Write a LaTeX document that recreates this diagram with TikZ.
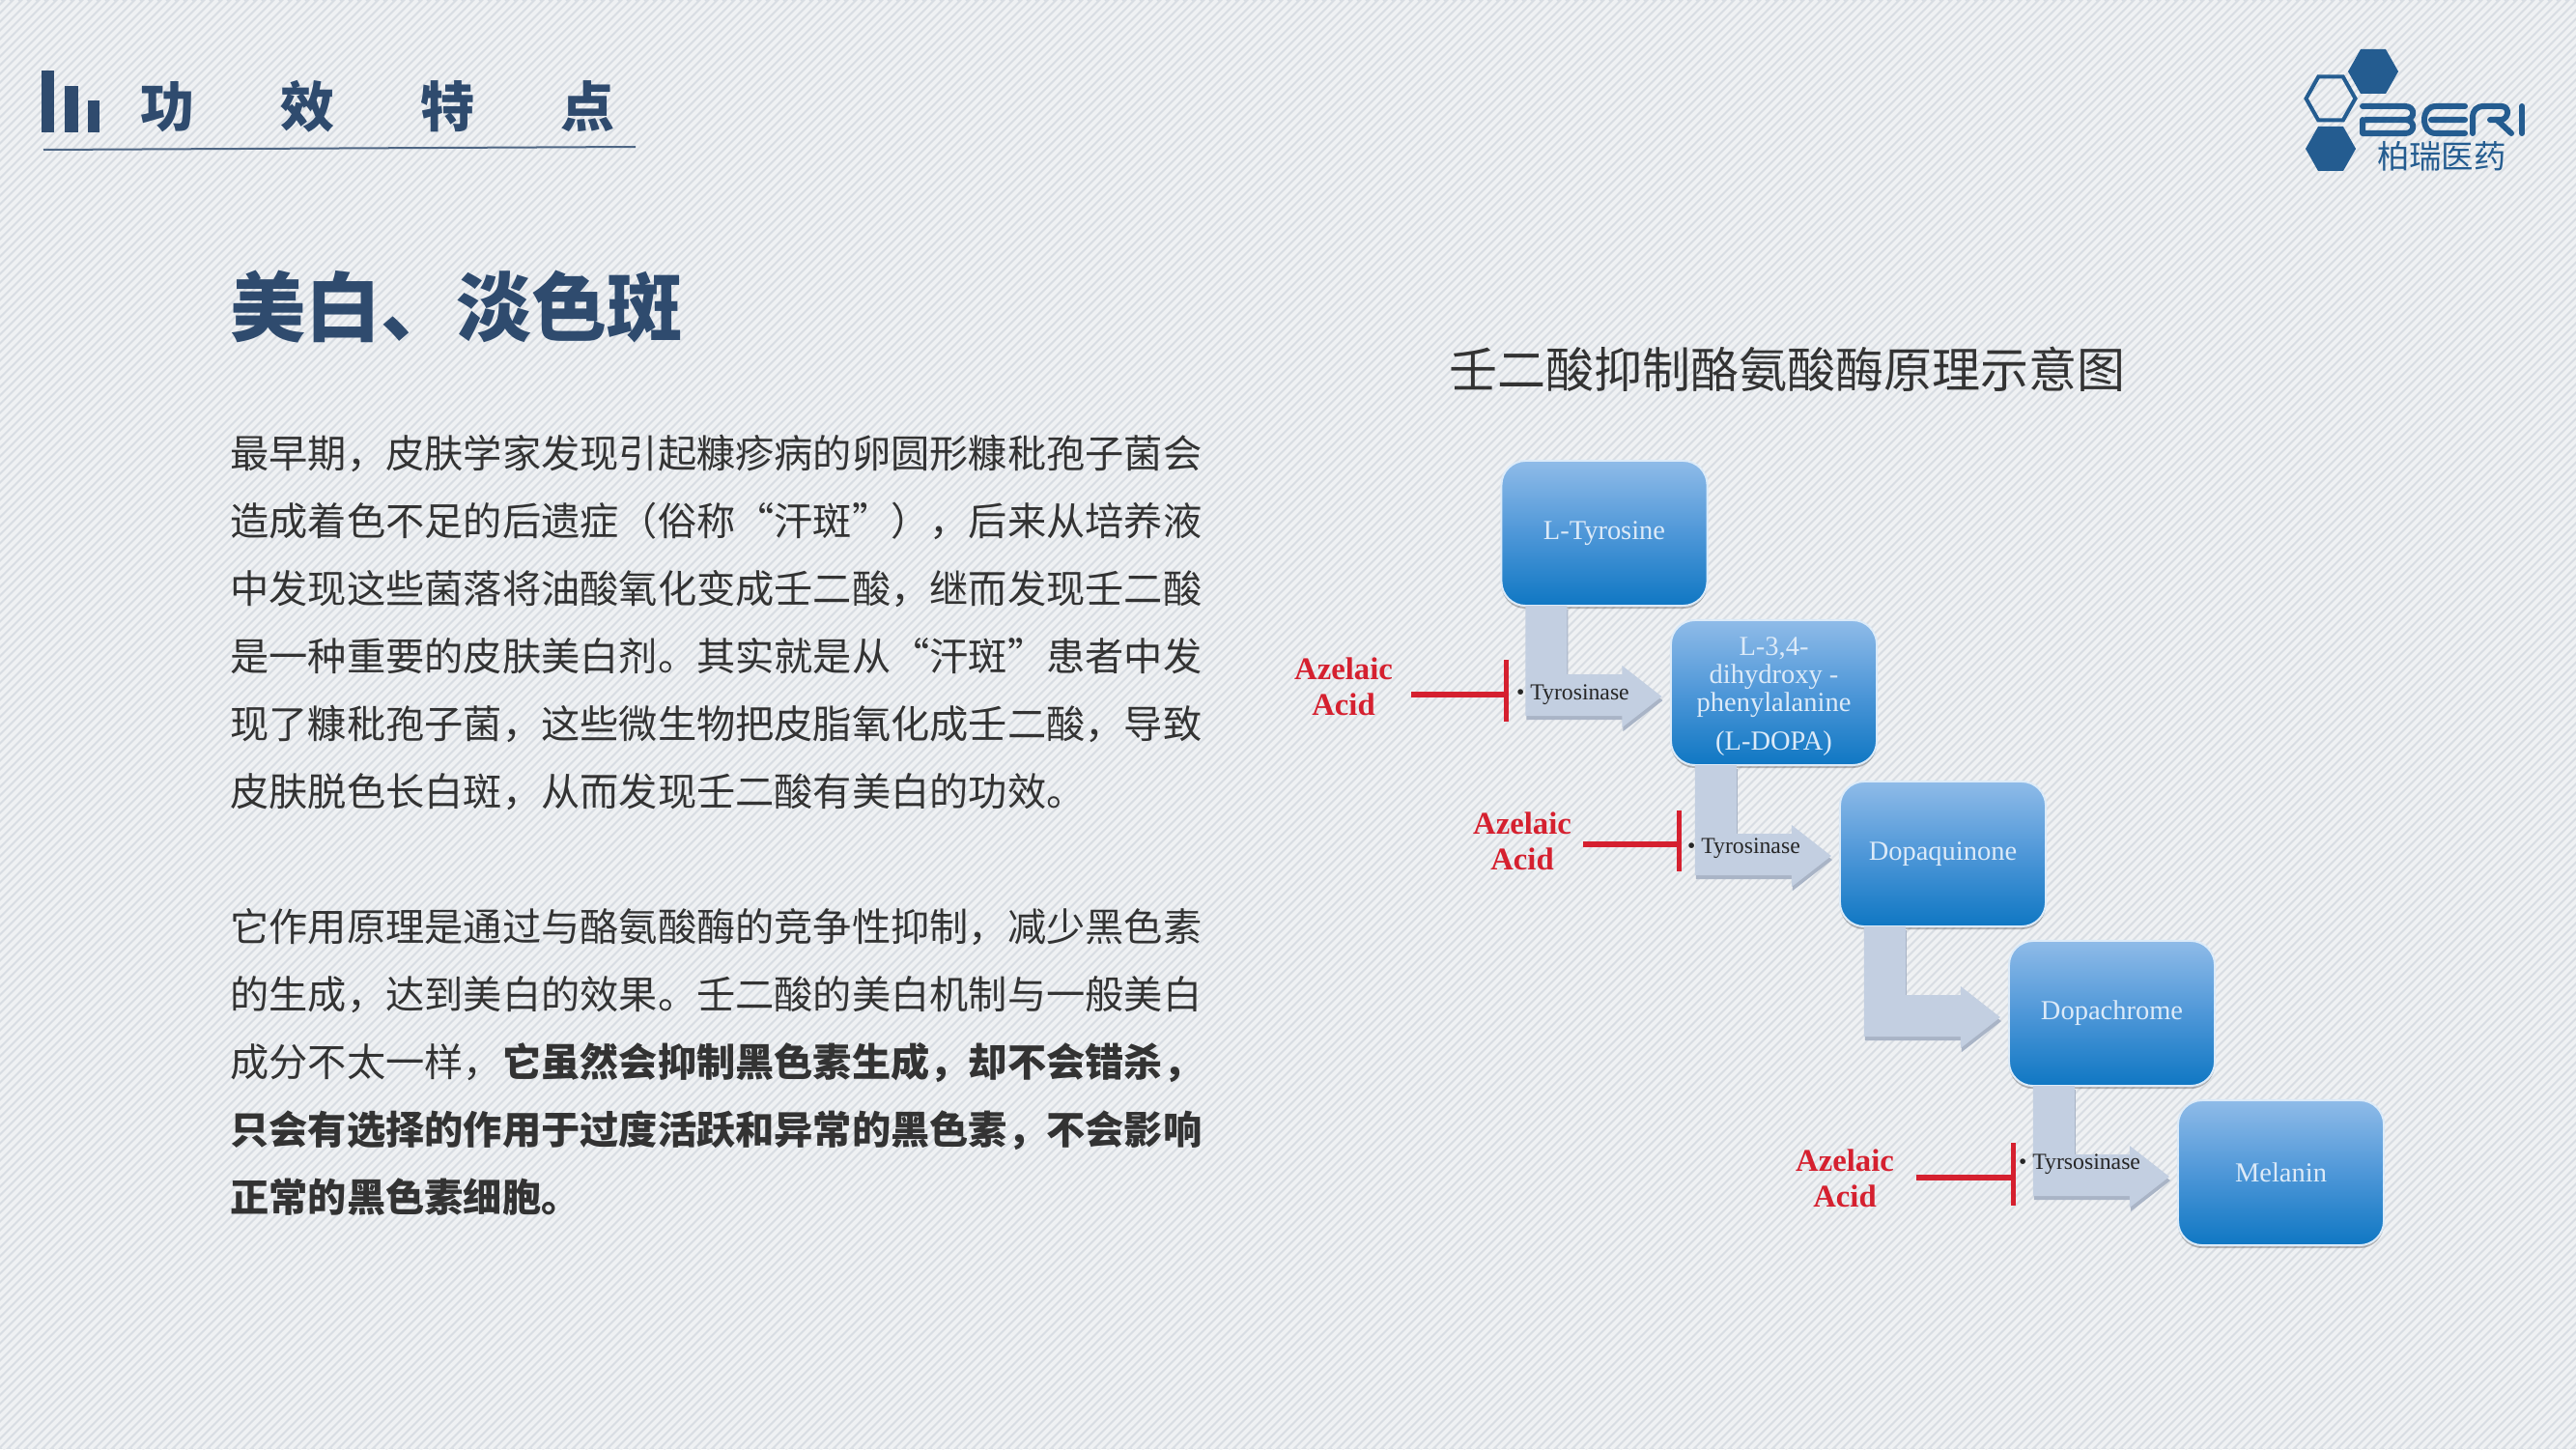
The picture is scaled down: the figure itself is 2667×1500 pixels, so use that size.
\documentclass[tikz,border=0pt]{standalone}
\usepackage{fontspec}
\usetikzlibrary{shadows}
\setmainfont{Liberation Serif}
\newfontfamily\cjk{Noto Sans CJK SC}
\definecolor{bgdark}{HTML}{D8DDE3}
\definecolor{bglight}{HTML}{EFF1F3}
\definecolor{navy}{HTML}{2F4B6E}
\definecolor{logoblue}{HTML}{245C90}
\definecolor{bodytxt}{HTML}{333333}
\definecolor{redinh}{HTML}{D5202F}
\definecolor{arrowfill}{HTML}{C3CFE1}
\definecolor{arrowshade}{HTML}{A9B4C6}
\definecolor{boxtop}{HTML}{8FBBE8}
\definecolor{boxmid}{HTML}{4E97D8}
\definecolor{boxbot}{HTML}{0F77C3}
\definecolor{boxtxt}{HTML}{DCEAF8}
\tikzset{
  every node/.style={inner sep=0pt,outer sep=0pt},
  bodyline/.style={anchor=base west,text=bodytxt,font=\cjk\fontsize{11.44}{14}\selectfont},
  flowbox/.style={rounded corners=0.25cm,minimum width=2.13cm,minimum height=1.5cm,
    top color=boxtop,bottom color=boxbot,middle color=boxmid,draw=white!70!boxtop,line width=0.02cm,
    drop shadow={shadow xshift=0cm,shadow yshift=-0.03cm,opacity=.25,fill=black},
    text=boxtxt,align=center,font=\fontsize{8.1}{8.25}\selectfont},
  bentarrow/.style={fill=arrowfill},
  bentshade/.style={fill=arrowshade},
  enzyme/.style={anchor=base west,text=black!85,font=\fontsize{6.75}{8}\selectfont},
  azelaic/.style={text=redinh,align=center,font=\bfseries\fontsize{9.3}{10.6}\selectfont},
  inhib/.style={draw=redinh,line width=0.06cm},
  logoline/.style={draw=logoblue,line width=0.06cm,line cap=round,line join=round},
  hexfill/.style={fill=logoblue},
  hexline/.style={draw=logoblue,line width=0.04cm},
}
\newcommand{\hexpath}[2]{(-#1,0) -- (-#1/2,-#2) -- (#1/2,-#2) -- (#1,0) -- (#1/2,#2) -- (-#1/2,#2) -- cycle}
\newcommand{\bentpath}{(25,0) -- (68,0) -- (68,71) -- (125,71) -- (125,62) -- (166,94) -- (125,126) -- (125,114) -- (25,114) -- cycle}
\begin{document}
\begin{tikzpicture}[x=0.01cm,y=-0.01cm]
\useasboundingbox (0,0) rectangle (2667,1500);
% background
\fill[bgdark] (0,0) rectangle (2667,1500);
\begin{scope}
\clip (0,0) rectangle (2667,1500);
\foreach \i in {-1500,-1491,...,2667} \draw[bglight,line width=0.04cm] (\i,1500) -- (\i+1500,0);
\end{scope}
% header
\fill[navy] (43,73) rectangle (56,137);
\fill[navy] (67,89) rectangle (81,137);
\fill[navy] (91,104) rectangle (103,137);
\draw[navy!85,line width=0.02cm] (45,155) -- (658,152);
\node[anchor=base west,text=navy,font=\cjk\bfseries\fontsize{15.93}{18}\selectfont] (hdr) at (145,132) {功\hspace{0.89cm}效\hspace{0.89cm}特\hspace{0.89cm}点};
% logo
\path[hexfill,shift={(2457,74)}] \hexpath{26}{23};
\path[hexline,shift={(2413,102)}] \hexpath{25.5}{22.5};
\path[hexfill,shift={(2413,154)}] \hexpath{26}{23};
\draw[logoline] (2446,110) -- (2490,110) .. controls (2501,110) and (2501,124) .. (2490,124) -- (2449,124) (2446,124) -- (2446,138) -- (2490,138) .. controls (2501,138) and (2501,124) .. (2490,124);
\draw[logoline] (2552,110) -- (2522,110) .. controls (2514,110) and (2510,116) .. (2510,124) .. controls (2510,132) and (2514,138) .. (2522,138) -- (2552,138) (2517,124) -- (2552,124);
\draw[logoline] (2560,138) -- (2560,122) .. controls (2560,114) and (2564,110) .. (2572,110) -- (2590,110) .. controls (2598,110) and (2598,122) .. (2590,124) -- (2578,124) (2585,124) -- (2600,138);
\draw[logoline] (2611,110) -- (2611,138);
\node[anchor=base west,text=logoblue,font=\cjk\fontsize{9.5}{11}\selectfont] (logotxt) at (2461,175) {柏瑞医药};
% heading
\node[anchor=base west,text=navy,font=\cjk\bfseries\fontsize{22.2}{26}\selectfont] (head) at (238,347) {美白、淡色斑};
% paragraphs
\node[bodyline] (l1) at (238.5,484) {最早期，皮肤学家发现引起糠疹病的卵圆形糠秕孢子菌会};
\node[bodyline] (l2) at (238.5,554) {造成着色不足的后遗症（俗称“汗斑”），后来从培养液};
\node[bodyline] (l3) at (238.5,624) {中发现这些菌落将油酸氧化变成壬二酸，继而发现壬二酸};
\node[bodyline] (l4) at (238.5,694) {是一种重要的皮肤美白剂。其实就是从“汗斑”患者中发};
\node[bodyline] (l5) at (238.5,764) {现了糠秕孢子菌，这些微生物把皮脂氧化成壬二酸，导致};
\node[bodyline] (l6) at (238.5,834) {皮肤脱色长白斑，从而发现壬二酸有美白的功效。};
\node[bodyline] (m1) at (238.5,974) {它作用原理是通过与酪氨酸酶的竞争性抑制，减少黑色素};
\node[bodyline] (m2) at (238.5,1044) {的生成，达到美白的效果。壬二酸的美白机制与一般美白};
\node[bodyline] (m3) at (238.5,1114) {成分不太一样，\textbf{它虽然会抑制黑色素生成，却不会错杀，}};
\node[bodyline] (m4) at (238.5,1184) {\textbf{只会有选择的作用于过度活跃和异常的黑色素，不会影响}};
\node[bodyline] (m5) at (238.5,1254) {\textbf{正常的黑色素细胞。}};
% diagram title
\node[anchor=base west,text=bodytxt,font=\cjk\fontsize{14.23}{17}\selectfont] (title) at (1500,401) {壬二酸抑制酪氨酸酶原理示意图};
% boxes
\node[flowbox] (b1) at (1661,552) {\raisebox{0.04cm}{L-Tyrosine}};
\node[flowbox] (b2) at (1836.5,717) {\rule{0pt}{0.27cm}L-3,4-\\dihydroxy -\\phenylalanine\\[0.11cm](L-DOPA)};
\node[flowbox] (b3) at (2011.5,884) {\raisebox{-0.015cm}{Dopaquinone}};
\node[flowbox] (b4) at (2186.5,1049) {\raisebox{-0.03cm}{Dopachrome}};
\node[flowbox] (b5) at (2361.5,1214) {Melanin};
% bent arrows
\foreach \b in {b1,b2,b3,b4}{
  \path[bentshade,shift={(\b.south west)},xshift=0.01cm,yshift=-0.04cm] \bentpath;
  \path[bentarrow,shift={(\b.south west)}] \bentpath;
}
% enzymes
\node[enzyme] (e1) at (1570,724) {\textbullet\ Tyrosinase};
\node[enzyme] (e2) at (1747,883) {\textbullet\ Tyrosinase};
\node[enzyme] (e3) at (2090,1210) {\textbullet\ Tyrsosinase};
% inhibitors
\node[azelaic] (a1) at (1391,711) {Azelaic\\Acid};
\node[azelaic] (a2) at (1576,871) {Azelaic\\Acid};
\node[azelaic] (a3) at (1910,1220) {Azelaic\\Acid};
\coordinate (s1) at (1461,719); \coordinate (t1) at (1559,719);
\coordinate (u1) at (1559,683); \coordinate (v1) at (1559,747);
\coordinate (s2) at (1639,874); \coordinate (t2) at (1738,874);
\coordinate (u2) at (1738,839); \coordinate (v2) at (1738,902);
\coordinate (s3) at (1984,1219); \coordinate (t3) at (2084,1219);
\coordinate (u3) at (2084,1183); \coordinate (v3) at (2084,1248);
\foreach \k in {1,2,3}{
  \draw[inhib] (s\k) -- (t\k);
  \draw[inhib,line width=0.05cm] (u\k) -- (v\k);
}
\end{tikzpicture}
\end{document}
